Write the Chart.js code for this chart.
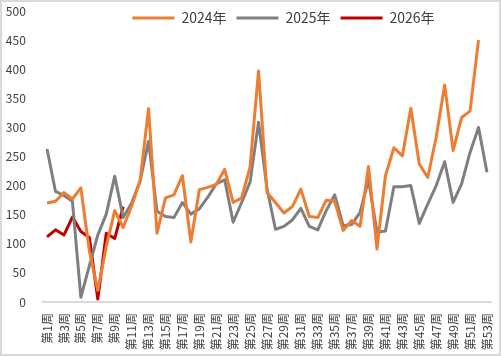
<!DOCTYPE html>
<html><head><meta charset="utf-8">
<script src="https://cdn.jsdelivr.net/npm/chart.js@4"></script>
<style>
html,body{margin:0;padding:0;background:#fff;}
#wrap{position:relative;width:501px;height:356px;overflow:hidden;}
#frame{position:absolute;left:0;top:0;width:501px;height:356px;box-sizing:border-box;border:2px solid #d9d9d9;pointer-events:none;}
canvas{position:absolute;left:0;top:0;}
</style></head><body>
<div id="wrap"><canvas id="c" width="501" height="356"></canvas><div id="frame"></div></div>
<script>
const weeks = ['第1周','第2周','第3周','第4周','第5周','第6周','第7周','第8周','第9周','第10周',
  '第11周','第12周','第13周','第14周','第15周','第16周','第17周','第18周','第19周','第20周',
  '第21周','第22周','第23周','第24周','第25周','第26周','第27周','第28周','第29周','第30周',
  '第31周','第32周','第33周','第34周','第35周','第36周','第37周','第38周','第39周','第40周',
  '第41周','第42周','第43周','第44周','第45周','第46周','第47周','第48周','第49周','第50周',
  '第51周','第52周','第53周'];
const seriesNames = ['2024年','2025年','2026年'];
const y2024 = [170,173,188,177,196,88,20,95,157,128,165,208,332,118,179,184,217,103,193,197,
  202,228,171,179,232,397,188,171,153,164,194,147,145,175,173,123,140,130,233,91,
  217,265,251,333,237,214,283,373,260,317,328,450,null];
const y2025 = [263,190,183,173,8,62,115,151,216,145,170,208,276,156,147,145,171,151,160,180,
  203,210,137,171,206,309,195,125,130,141,161,130,124,157,184,131,133,154,210,120,
  122,198,198,200,135,168,200,241,171,203,257,300,223];
const y2026 = [112,124,115,146,121,111,5,118,109,164];
const yTicks = [0,50,100,150,200,250,300,350,400,450,500];
const colors = ['#ED7D31','#7F7F7F','#C00000'];
const FONT = '"Noto Sans CJK SC", "Noto Sans", sans-serif';

const legendPos = {
  id: 'legendPos',
  beforeLayout(chart) {
    const lg = chart.legend;
    if (lg && !lg._patched) {
      const f = lg.fit;
      lg.fit = function () { f.call(this); this._realH = this.height; this.height = 0; };
      lg._patched = true;
    }
  },
  afterLayout(chart) {
    const lg = chart.legend;
    if (!lg || !lg.lineWidths) return;
    const pad = lg.options.labels.padding;
    const lw = lg.lineWidths[0];
    const itemsW = lw - pad;
    const start = 283.5 - itemsW / 2;
    const w = lg.right - lg.left;
    const left = (2 * start - pad - w + lw) / 2;
    lg.left = left; lg.right = left + w;
    lg.top = 1; lg.bottom = 1 + (lg._realH || 40);
  }
};

new Chart(document.getElementById('c'), {
  type: 'line',
  data: {
    labels: weeks,
    datasets: [y2024, y2025, y2026].map((d, i) => ({
      label: seriesNames[i],
      data: d,
      borderColor: colors[i],
      backgroundColor: colors[i],
      borderWidth: 3,
      pointRadius: 0,
      pointHoverRadius: 0,
      tension: 0,
      fill: false,
      spanGaps: false,
      borderJoinStyle: 'round'
    }))
  },
  options: {
    responsive: false,
    animation: false,
    devicePixelRatio: 1,
    layout: { padding: { left: 0, right: 9.8, top: 11, bottom: 0 } },
    plugins: {
      tooltip: { enabled: false },
      legend: {
        display: true,
        position: 'top',
        labels: {
          usePointStyle: true,
          pointStyleWidth: 42,
          padding: 10,
          color: '#404040',
          font: { size: 14, family: FONT },
          generateLabels(chart) {
            return chart.data.datasets.map((ds, i) => ({
              text: ds.label,
              fillStyle: ds.borderColor,
              strokeStyle: ds.borderColor,
              lineWidth: 3,
              pointStyle: 'line',
              hidden: false,
              datasetIndex: i,
              fontColor: '#404040'
            }));
          }
        }
      }
    },
    scales: {
      x: {
        type: 'category',
        offset: true,
        grid: { display: false, drawTicks: false },
        border: { display: true, color: '#d9d9d9', width: 2 },
        ticks: {
          autoSkip: false,
          maxRotation: 90,
          minRotation: 90,
          padding: 11,
          color: '#404040',
          font: { size: 12, family: FONT },
          callback(v, i) { return i % 2 === 0 ? weeks[i] : ''; }
        },
        afterFit(s) { s.height = 54; s.paddingLeft = 0; s.paddingRight = 0; s.paddingTop = 0; s.paddingBottom = 0; }
      },
      y: {
        min: 0,
        max: 500,
        grid: { display: false, drawTicks: false },
        border: { display: false },
        afterBuildTicks(s) { s.ticks = yTicks.map(v => ({ value: v })); },
        ticks: {
          padding: 17,
          color: '#404040',
          font: { size: 12, family: FONT }
        },
        afterFit(s) { s.width = 42.8; s.paddingLeft = 0; s.paddingRight = 0; s.paddingTop = 0; s.paddingBottom = 0; }
      }
    }
  },
  plugins: [legendPos]
});
</script>
</body></html>
